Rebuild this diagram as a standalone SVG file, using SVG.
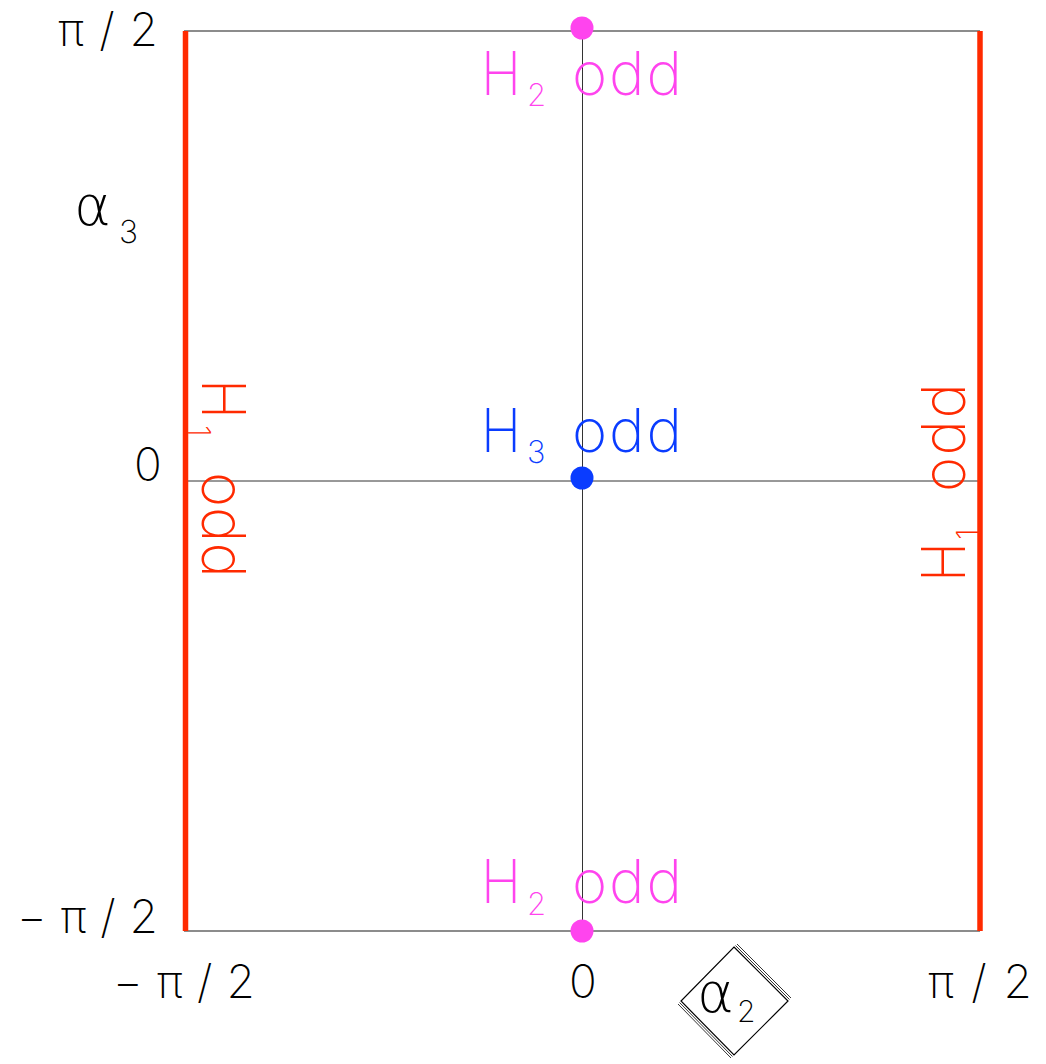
<svg xmlns="http://www.w3.org/2000/svg" width="1046" height="1064" viewBox="0 0 1046 1064">
<style>
.t{font-family:Inter,"DejaVu Sans",sans-serif;font-weight:200}
.al{font-family:"DejaVu Sans",sans-serif;font-weight:200;font-size:56px}
.lab{font-size:46px;fill:#000}
.big{font-size:60px}
.sub{font-size:31px}
.red{fill:#ff2a00}
.blue{fill:#0a3cff}
.mag{fill:#ff44ee}
.ax{stroke:#333;stroke-width:1;fill:none}
.fr{stroke:#666;stroke-width:1.5;fill:none}
</style>
<rect width="1046" height="1064" fill="#fff"/>
<g id="frame">
<line class="fr" x1="184" y1="31" x2="980" y2="31"/>
<line class="fr" x1="184" y1="931" x2="980" y2="931"/>
</g>
<g id="connectors">
<line class="ax" x1="184" y1="481" x2="980" y2="481"/>
<line class="ax" x1="582.5" y1="31" x2="582.5" y2="931"/>
<line x1="185.5" y1="31" x2="185.5" y2="931" stroke="#ff2a00" stroke-width="5.5"/>
<line x1="980" y1="31" x2="980" y2="931" stroke="#ff2a00" stroke-width="5.5"/>
</g>
<g id="axis-labels" class="t lab">
<text x="58" y="46" textLength="100" lengthAdjust="spacing">π/2</text>
<text x="134" y="481">0</text>
<text x="17" y="933" textLength="141" lengthAdjust="spacing">−π/2</text>
<text x="113" y="998" textLength="142" lengthAdjust="spacing">−π/2</text>
<text x="569" y="998">0</text>
<text x="928" y="998" textLength="104" lengthAdjust="spacing">π/2</text>
<text class="al" x="74" y="225">α</text>
<text x="119" y="243" font-size="32">3</text>
</g>
<g id="alpha2">
<polygon points="734,947 788,1001 734,1055 681,1001" fill="none" stroke="#000" stroke-width="1.2"/>
<polyline points="735.5,945.5 789.5,999.5" fill="none" stroke="#000" stroke-width="0.8"/>
<polyline points="737,944 791,998" fill="none" stroke="#000" stroke-width="0.8"/>
<polyline points="679.5,1002.5 732.5,1056.5" fill="none" stroke="#000" stroke-width="0.8"/>
<polyline points="678,1004 731,1058" fill="none" stroke="#000" stroke-width="0.8"/>
<text class="al" x="697" y="1012">α</text>
<text class="t" x="737" y="1022" font-size="30">2</text>
</g>
<g id="node-h2-top" class="t mag">
<circle cx="582" cy="28" r="11.5"/>
<text class="big" x="481" y="95" textLength="40" lengthAdjust="spacingAndGlyphs">H</text>
<text class="sub" x="527" y="106">2</text>
<text class="big" x="572" y="95" textLength="110" lengthAdjust="spacing">odd</text>
</g>
<g id="node-h3" class="t blue">
<circle cx="582" cy="478" r="11.5"/>
<text class="big" x="481" y="452" textLength="40" lengthAdjust="spacingAndGlyphs">H</text>
<text class="sub" x="527" y="463">3</text>
<text class="big" x="572" y="452" textLength="110" lengthAdjust="spacing">odd</text>
</g>
<g id="node-h2-bottom" class="t mag">
<circle cx="582" cy="931" r="11.5"/>
<text class="big" x="481" y="903" textLength="40" lengthAdjust="spacingAndGlyphs">H</text>
<text class="sub" x="527" y="915">2</text>
<text class="big" x="572" y="903" textLength="110" lengthAdjust="spacing">odd</text>
</g>
<g id="node-h1-left" class="t red" transform="translate(202,383) rotate(90)">
<text class="big" x="-4" y="0" textLength="40" lengthAdjust="spacingAndGlyphs">H</text>
<text class="sub" x="42" y="14">1</text>
<text class="big" x="89" y="0" textLength="106" lengthAdjust="spacing">odd</text>
</g>
<g id="node-h1-right" class="t red" transform="translate(965,578) rotate(-90)">
<text class="big" x="-4" y="0" textLength="40" lengthAdjust="spacingAndGlyphs">H</text>
<text class="sub" x="38" y="14">1</text>
<text class="big" x="86" y="0" textLength="109" lengthAdjust="spacing">odd</text>
</g>
</svg>
